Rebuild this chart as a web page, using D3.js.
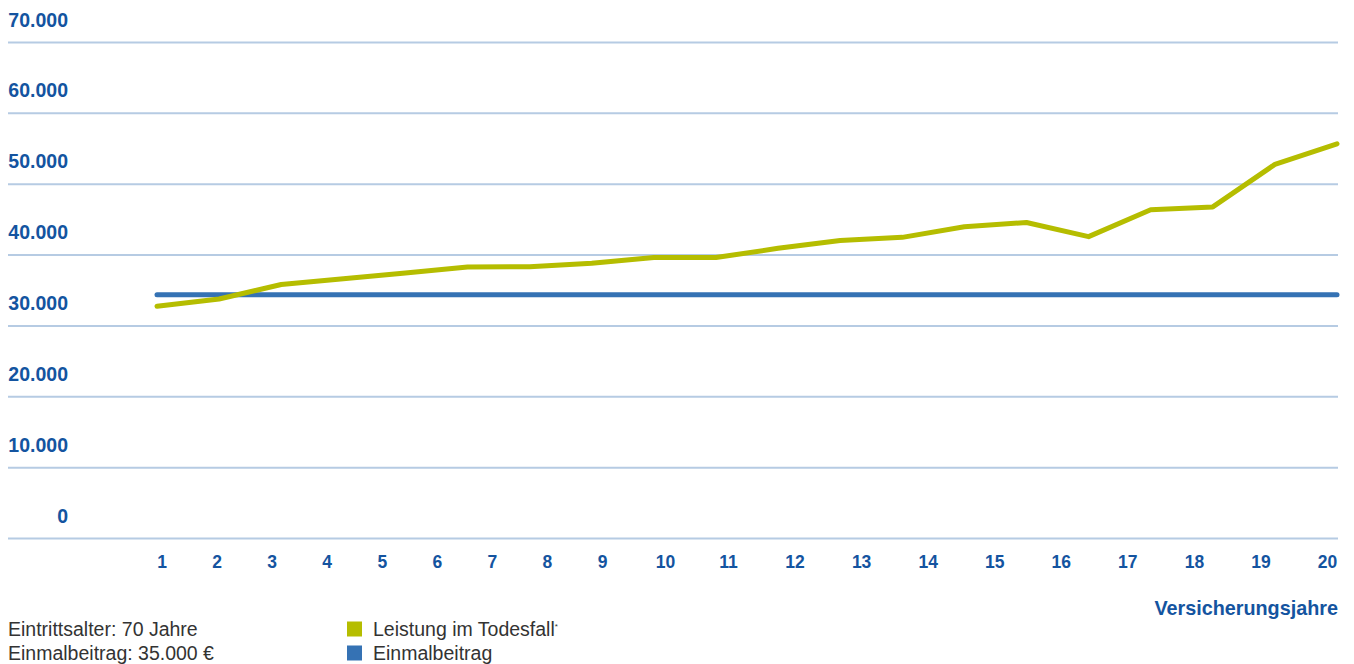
<!DOCTYPE html>
<html>
<head>
<meta charset="utf-8">
<script src="https://cdn.jsdelivr.net/npm/d3@7"></script>
<style>
  html, body { margin: 0; padding: 0; background: #fff; }
  svg { display: block; font-family: "Liberation Sans", Arial, Helvetica, sans-serif; }
</style>
</head>
<body>
<svg id="chart" width="1354" height="664"></svg>
<script>
// ---- data ----
const years = [1, 2, 3, 4, 5, 6, 7, 8, 9, 10, 11, 12, 13, 14, 15, 16, 17, 18, 19, 20];
const leistungImTodesfall = [32770, 33800, 35840, 36650, 37470, 38330, 38360, 38860, 39650, 39650,
                             40950, 42070, 42500, 44000, 44600, 42600, 46400, 46800, 52800, 55700];
const einmalbeitrag = [34400, 34400, 34400, 34400, 34400, 34400, 34400, 34400, 34400, 34400,
                       34400, 34400, 34400, 34400, 34400, 34400, 34400, 34400, 34400, 34400];
const yTicks = [0, 10000, 20000, 30000, 40000, 50000, 60000, 70000];
const yTickLabels = ["0", "10.000", "20.000", "30.000", "40.000", "50.000", "60.000", "70.000"];
const xTitle = "Versicherungsjahre";
const infoLines = ["Eintrittsalter: 70 Jahre", "Einmalbeitrag: 35.000 €"];
const legendItems = [
  { label: "Leistung im Todesfall", sup: "*", color: "#b5bd00" },
  { label: "Einmalbeitrag", sup: "", color: "#3572b4" }
];

// ---- styles ----
const labelBlue = "#1454a0";
const gridColor = "#b6cbe3";
const greenColor = "#b5bd00";
const blueColor = "#3572b4";

const svg = d3.select("#chart");

const y = d3.scaleLinear().domain([0, 70000]).range([538.5, 42.5]);
const xLine = d3.scaleLinear().domain([1, 20]).range([157, 1337]);
const xLab = d3.scaleLinear().domain([1, 9, 11, 20]).range([161.5, 602, 728, 1327]);

// gridlines
svg.append("g").selectAll("line").data(yTicks).join("line")
  .attr("x1", 8).attr("x2", 1338)
  .attr("y1", d => y(d)).attr("y2", d => y(d))
  .attr("stroke", gridColor).attr("stroke-width", 2);

// y labels (above gridlines)
svg.append("g").selectAll("text").data(yTicks).join("text")
  .attr("x", 68).attr("y", d => y(d) - 23)
  .attr("dy", "0.36em")
  .attr("text-anchor", "end")
  .attr("fill", labelBlue)
  .attr("font-weight", "bold")
  .attr("font-size", 19.5)
  .text((d, i) => yTickLabels[i]);

// x axis labels
const xAxis = d3.axisBottom(xLab).tickValues(years).tickSize(0).tickPadding(0).tickFormat(d3.format("d"));
const gx = svg.append("g").attr("transform", "translate(0,556)").call(xAxis);
gx.select(".domain").remove();
gx.selectAll("text")
  .attr("fill", labelBlue)
  .attr("font-weight", "bold")
  .attr("font-size", 17.5)
  .attr("font-family", "\"Liberation Sans\", Arial, sans-serif");

// x title
svg.append("text")
  .attr("x", 1338).attr("y", 608).attr("dy", "0.36em")
  .attr("text-anchor", "end")
  .attr("fill", labelBlue).attr("font-weight", "bold").attr("font-size", 19.8)
  .text(xTitle);

// lines
const lineGen = (vals) => d3.line().x((d, i) => xLine(years[i])).y(d => y(d))(vals);

svg.append("path")
  .attr("d", lineGen(einmalbeitrag))
  .attr("fill", "none").attr("stroke", blueColor).attr("stroke-width", 5)
  .attr("stroke-linecap", "round");

svg.append("path")
  .attr("d", lineGen(leistungImTodesfall))
  .attr("fill", "none").attr("stroke", greenColor).attr("stroke-width", 5)
  .attr("stroke-linecap", "round").attr("stroke-linejoin", "round");

// info text
svg.append("g").selectAll("text").data(infoLines).join("text")
  .attr("x", 8).attr("y", (d, i) => 629 + i * 24).attr("dy", "0.36em")
  .attr("fill", "#333").attr("font-size", 19.5)
  .text(d => d);

// legend
const lg = svg.append("g").selectAll("g").data(legendItems).join("g")
  .attr("transform", (d, i) => `translate(347,${629 + i * 24})`);
lg.append("rect").attr("x", 0).attr("y", -7.5).attr("width", 15).attr("height", 15).attr("fill", d => d.color);
const lt = lg.append("text").attr("x", 26).attr("y", 0).attr("dy", "0.36em")
  .attr("fill", "#333").attr("font-size", 19.5);
lt.append("tspan").text(d => d.label);
lt.append("tspan").attr("font-size", 8).attr("dy", "-0.9em").text(d => d.sup);
</script>
</body>
</html>
